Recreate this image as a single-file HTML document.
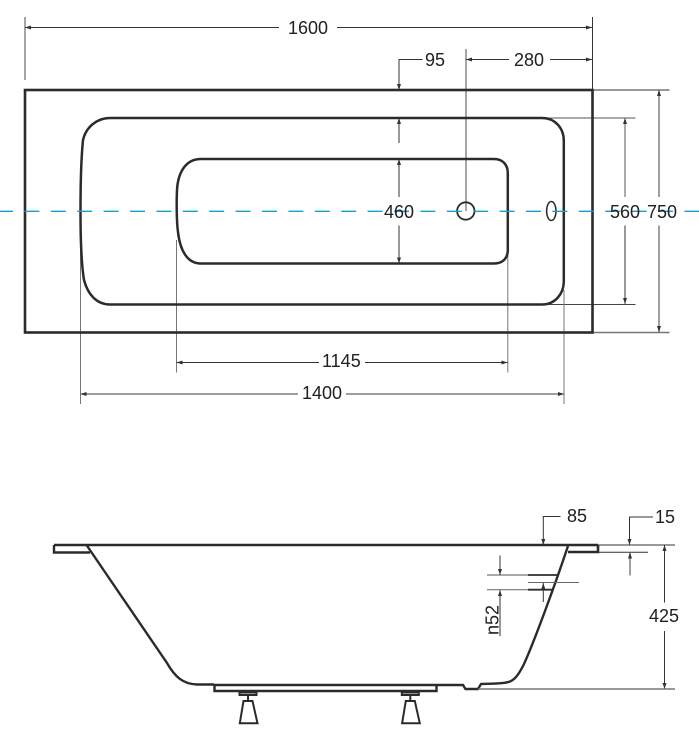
<!DOCTYPE html>
<html><head><meta charset="utf-8"><style>
html,body{margin:0;padding:0;background:#fff}
svg{display:block}
text{font-family:"Liberation Sans",sans-serif;font-size:18px;fill:#222021}
</style></head><body>
<svg width="699" height="739" viewBox="0 0 699 739" xmlns="http://www.w3.org/2000/svg">
<defs>
<marker id="a" viewBox="0 0 6 4" refX="6" refY="2" markerWidth="6" markerHeight="4" orient="auto-start-reverse" markerUnits="userSpaceOnUse"><path d="M0 0L6 2L0 4Z" fill="#333"/></marker>
</defs>
<!-- Extension lines -->
<g fill="none" stroke="#777" stroke-width="1">
<path d="M25 17V80" stroke-width="1.300"/>
<path d="M592.500 17V90" stroke="#333"/>
<path d="M466 49V211" stroke-width="1.300"/>
<path d="M592 90H669.500" stroke-width="1.400"/>
<path d="M592 332.500H669.500" stroke-width="1.400"/>
<path d="M543 118H635.500" stroke="#555"/>
<path d="M543 304.500H635.500" stroke="#444"/>
<path d="M176.500 240V372.500"/>
<path d="M507.800 250V372.500"/>
<path d="M80.500 240V404"/>
<path d="M564 290V404"/>
</g>
<!-- Dimension lines -->
<g fill="none" stroke="#333" stroke-width="1">
<path d="M25 27.500H279" marker-start="url(#a)"/>
<path d="M337 27.500H592" marker-end="url(#a)"/>
<path d="M422.500 59.500H399V90" marker-end="url(#a)"/>
<path d="M466 59.500H509" marker-start="url(#a)"/>
<path d="M550 59.500H592" marker-end="url(#a)"/>
<path d="M399 143V118" marker-end="url(#a)"/>
<path d="M399 197V159" marker-end="url(#a)"/>
<path d="M399 225.500V263.500" marker-end="url(#a)"/>
<path d="M625 197V118" marker-end="url(#a)" stroke="#555"/>
<path d="M625 225.500V304" marker-end="url(#a)"/>
<path d="M659 197V90" marker-end="url(#a)" stroke="#777" stroke-width="1.400"/>
<path d="M659 225.500V332" marker-end="url(#a)" stroke="#777" stroke-width="1.400"/>
<path d="M176.500 362.500H319" marker-start="url(#a)"/>
<path d="M365 362.500H507.500" marker-end="url(#a)"/>
<path d="M80.500 394H298" marker-start="url(#a)" stroke="#666" stroke-width="1.200"/>
<path d="M346 394H564" marker-end="url(#a)" stroke="#666" stroke-width="1.200"/>
</g>
<!-- Top view -->
<g fill="none" stroke="#2b2b2b" stroke-width="2.500">
<rect x="25" y="90" width="567.500" height="242.500" stroke-width="2.600"/>
<path d="M110 118H542C555 118 563.500 128 563.800 140V282C563.500 294 555 304.500 542 304.500H110C97 304.500 88 295 84 280C81 262 80.500 235 80.500 211C80.500 185 81 160 83 140C86 127 97 118 110 118Z"/>
<path d="M201 159H494C503 159 507.800 165 507.800 173V250C507.800 258 503 263.500 494 263.500H200C187 263 180 250 178 232C176.500 222 176.500 200 177 190C178 172 186 159 201 159Z"/>
<circle cx="465.800" cy="211" r="8.700" stroke-width="1.800"/>
<ellipse cx="551.300" cy="211" rx="4.700" ry="9.500" stroke-width="1.500"/>
</g>
<path d="M0 211.300H699" stroke="#149fd0" stroke-width="1.400" stroke-dasharray="15 11.400" stroke-dashoffset="2"/>
<!-- Labels -->
<text x="288" y="34">1600</text>
<text x="425" y="66">95</text>
<text x="514" y="66">280</text>
<text x="384" y="218">460</text>
<text x="610" y="218">560</text>
<text x="647" y="218">750</text>
<text x="322" y="367">1145</text>
<text x="302" y="399">1400</text>
<!-- Side view -->
<g fill="none" stroke="#2b2b2b" stroke-width="2.400">
<path d="M54 545H598" stroke-width="2.600"/>
<path d="M54 545V552.500H90"/>
<path d="M568 552H598V545" stroke-width="2.600"/>
<path d="M86.500 545L167 663C175 677 183 684 197 684.500H214"/>
<path d="M214 685H463L465.500 689H478L481 684C495 683.500 505 683.500 510 681.500C516 679 520 672 524 664C534 642 555 585 568 546" stroke-width="2.400"/>
<path d="M214.500 685V691H436.500V685"/>
</g>
<g fill="none" stroke="#2b2b2b" stroke-width="2">
<path d="M239.500 692.500H256.500V695H239.500Z"/>
<path d="M248 695V701"/>
<path d="M243.500 701H252.500L257.500 723.300H239.800Z"/>
<path d="M401.800 692.500H418.800V695H401.800Z"/>
<path d="M410.300 695V701"/>
<path d="M405.800 701H414.800L419.800 723.300H402.100Z"/>
</g>
<g fill="none" stroke="#333" stroke-width="1">
<path d="M560.500 516.500H543.300V545" marker-end="url(#a)"/>
<path d="M653 517H629.500V545" marker-end="url(#a)"/>
<path d="M598 545H675"/>
<path d="M598 552.300H648"/>
<path d="M630 575.500V552.500" marker-end="url(#a)" stroke="#777" stroke-width="1.400"/>
<path d="M664.500 602.500V545" marker-end="url(#a)"/>
<path d="M664.500 631V689" marker-end="url(#a)"/>
<path d="M478 689H675" stroke="#777" stroke-width="1.400"/>
<path d="M487 575H528" stroke="#777" stroke-width="1.200"/>
<path d="M487 589.700H528" stroke="#777" stroke-width="1.200"/>
<path d="M528 575H557" stroke="#2b2b2b" stroke-width="1.800"/>
<path d="M528 589.700H552" stroke="#2b2b2b" stroke-width="1.800"/>
<path d="M528 582.500H579" stroke="#666"/>
<path d="M500 555.500V575" marker-end="url(#a)"/>
<path d="M500 636V590" marker-end="url(#a)"/>
<path d="M543.300 602V583" marker-end="url(#a)"/>
</g>
<text x="567" y="522">85</text>
<text x="655" y="523">15</text>
<text x="649" y="622">425</text>
<text transform="translate(498.500 635) rotate(-90)">n52</text>
</svg>
</body></html>
